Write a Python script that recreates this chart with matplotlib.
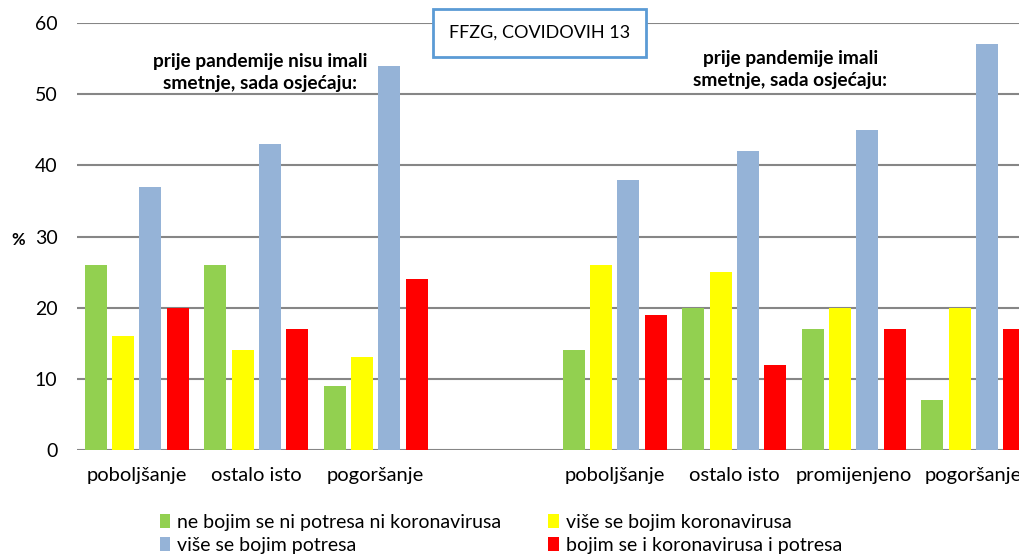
import matplotlib
matplotlib.use('Agg')
import matplotlib.pyplot as plt
import numpy as np

plt.rcParams['font.family'] = ['Lato', 'DejaVu Sans']

categories = ['poboljšanje', 'ostalo isto', 'pogoršanje', '',
              'poboljšanje', 'ostalo isto', 'promijenjeno', 'pogoršanje']
series_names = ['ne bojim se ni potresa ni koronavirusa', 'više se bojim koronavirusa',
                'više se bojim potresa', 'bojim se i koronavirusa i potresa']
colors = ['#92D050', '#FFFF00', '#95B3D7', '#FF0000']

# None = empty spacer category
ni_ni = [26, 26, 9, None, 14, 20, 17, 7]
korona = [16, 14, 13, None, 26, 25, 20, 20]
potres = [37, 43, 54, None, 38, 42, 45, 57]
oboje = [20, 17, 24, None, 19, 12, 17, 17]
series = [ni_ni, korona, potres, oboje]

fig = plt.figure(figsize=(10.19, 5.55), dpi=100)
ax = fig.add_axes([77 / 1019, 105 / 555, 956 / 1019, 427 / 555])

x = np.arange(len(categories))
pitch = 0.228
width = 0.184
for i, (vals, col, name) in enumerate(zip(series, colors, series_names)):
    xs = [xi + (i - 1.5) * pitch for xi, v in zip(x, vals) if v is not None]
    vs = [v for v in vals if v is not None]
    ax.bar(xs, vs, width=width, color=col, label=name, zorder=3)

ax.set_xlim(-0.5, len(categories) - 0.5)
ax.set_ylim(0, 60)
ax.set_yticks(range(0, 61, 10))
ax.yaxis.grid(True, color='#868686', lw=1.5, zorder=0)
ax.set_xticks(x)
ax.set_xticklabels(categories, fontsize=14.5)
ax.tick_params(axis='both', length=0)
ax.tick_params(axis='y', labelsize=14, pad=14)
ax.tick_params(axis='x', pad=12)
for s in ax.spines.values():
    s.set_visible(False)

fig.text(18 / 1019, 1 - 240 / 555, '%', fontsize=12, fontweight='bold', ha='center', va='center')

ax.text(1.03, 53.1, 'prije pandemije nisu imali\nsmetnje, sada osjećaju:', ha='center', va='center',
        fontsize=13.8, fontweight='bold', linespacing=1.35, zorder=5)
ax.text(5.47, 53.5, 'prije pandemije imali\nsmetnje, sada osjećaju:', ha='center', va='center',
        fontsize=13.8, fontweight='bold', linespacing=1.35, zorder=5)
ax.text(3.37, 58.6, 'FFZG, COVIDOVIH 13', ha='center', va='center', fontsize=13, zorder=6,
        bbox=dict(boxstyle='square,pad=0.9', fc='white', ec='#5B9BD5', lw=2))

handles, labels = ax.get_legend_handles_labels()
order = [0, 2, 1, 3]
fig.legend([handles[i] for i in order], [labels[i] for i in order],
           loc='center left', bbox_to_anchor=(150 / 1019, 1 - 534 / 555), ncol=2,
           frameon=False, fontsize=14, handlelength=0.55, handleheight=0.75,
           handletextpad=0.35, columnspacing=2.4, labelspacing=0.3, borderpad=0)

fig.savefig('out.png', dpi=100)
